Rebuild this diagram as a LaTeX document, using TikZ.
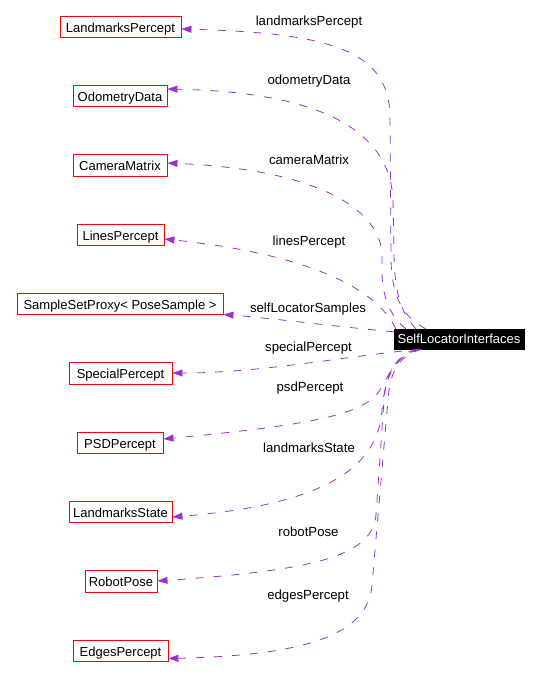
\documentclass[tikz,border=0pt]{standalone}
\usepackage{fontspec}
\setmainfont{Liberation Sans}
\usetikzlibrary{arrows.meta}
\definecolor{edgecol}{HTML}{9A32CD}
\definecolor{boxred}{HTML}{FF0000}
\tikzset{
  cls/.style={draw=boxred, line width=0.9pt, fill=white, inner xsep=2pt, inner ysep=0pt,
    minimum height=21pt, text height=13pt, text depth=2pt,
    font=\fontsize{13pt}{15pt}\selectfont, text=black},
  mainbox/.style={draw=black, fill=black, text=white, inner xsep=2pt, inner ysep=0pt,
    minimum height=20pt, minimum width=130pt, text height=11.6pt, text depth=2pt,
    font=\fontsize{13pt}{15pt}\selectfont},
  dep/.style={draw=edgecol, line width=0.8pt, dash pattern=on 8pt off 10pt,
    -{Triangle[length=10pt,width=7pt,fill=edgecol]}},
  elabel/.style={font=\fontsize{13.2pt}{15pt}\selectfont, text=black, inner sep=0pt}
}
\begin{document}
\begin{tikzpicture}[x={(1pt,0)}, y={(0,-1pt)}]
\useasboundingbox (0,0) rectangle (540,681);
% nodes
\node[cls, minimum width=121pt] (LP)  at (120.5,26.5) {LandmarksPercept};
\node[cls, minimum width=94pt]  (OD)  at (120,95.5)  {OdometryData};
\node[cls, minimum width=94pt, minimum height=22pt] (CM) at (120,165) {CameraMatrix};
\node[cls, minimum width=87pt]  (LiP) at (120.5,234.5) {LinesPercept};
\node[cls, minimum width=206pt] (SSP) at (120,303.5) {SampleSetProxy< PoseSample >};
\node[cls, minimum width=103pt, minimum height=22pt] (SP) at (120.5,373) {SpecialPercept};
\node[cls, minimum width=86pt]  (PSD) at (120,442.5) {PSDPercept};
\node[cls, minimum width=103pt] (LS)  at (120.5,511.5) {LandmarksState};
\node[cls, minimum width=72pt, minimum height=22pt] (RP) at (121,581) {RobotPose};
\node[cls, minimum width=95pt]  (EP)  at (120.5,650.5) {EdgesPercept};
\node[mainbox] (SLI) at (459,339) {SelfLocatorInterfaces};
% edges
\draw[dep] ([xshift=32pt]SLI.north west) .. controls (405,318) and (392,300) .. (391,260)
  -- (390,115) .. controls (388,50) and (330,33) .. ([yshift=-2.5pt]LP.east);
\draw[dep] ([xshift=22pt]SLI.north west) .. controls (400,312) and (394,290) .. (394,250)
  -- (393,200) .. controls (390,130) and (320,92) .. ([yshift=6.5pt]OD.east);
\draw[dep] ([xshift=12pt]SLI.north west) .. controls (392,318) and (383,300) .. (382,275)
  -- (382,255) .. controls (381,215) and (330,170) .. ([yshift=2pt]CM.east);
\draw[dep] ([xshift=2pt]SLI.north west) .. controls (370,275) and (270,250) .. ([yshift=-4.5pt]LiP.east);
\draw[dep] ([yshift=-3pt]SLI.north west) .. controls (330,326) and (270,318) .. (SSP.south east);
\draw[dep] ([xshift=26pt]SLI.south west) .. controls (340,357) and (260,373) .. (SP.east);
\draw[dep] ([xshift=22pt]SLI.south west) .. controls (395,355) and (390,375) .. (378,393)
  .. controls (360,415) and (310,425) .. ([yshift=3.5pt]PSD.east);
\draw[dep] ([xshift=24pt]SLI.south west) .. controls (395,358) and (385,375) .. (382,410)
  .. controls (378,470) and (320,505) .. ([yshift=-5.5pt]LS.east);
\draw[dep] ([xshift=26pt]SLI.south west) .. controls (395,356) and (386,372) .. (384,400)
  -- (376,515) .. controls (372,555) and (320,570) .. (RP.east);
\draw[dep] ([xshift=28pt]SLI.south west) .. controls (398,356) and (390,372) .. (388,400)
  -- (372,585) .. controls (368,630) and (320,655) .. ([yshift=-8pt]EP.east);
% labels
\node[elabel] (l1)  at (309,22)  {landmarksPercept};
\node[elabel] (l2)  at (309,81)  {odometryData};
\node[elabel] (l3)  at (309,160) {cameraMatrix};
\node[elabel] (l4)  at (309,242) {linesPercept};
\node[elabel] (l5)  at (308,309) {selfLocatorSamples};
\node[elabel] (l6)  at (308.5,348) {specialPercept};
\node[elabel] (l7)  at (310,388) {psdPercept};
\node[elabel] (l8)  at (309,448) {landmarksState};
\node[elabel] (l9)  at (308.5,532) {robotPose};
\node[elabel] (l10) at (308,596) {edgesPercept};
\end{tikzpicture}
\end{document}
